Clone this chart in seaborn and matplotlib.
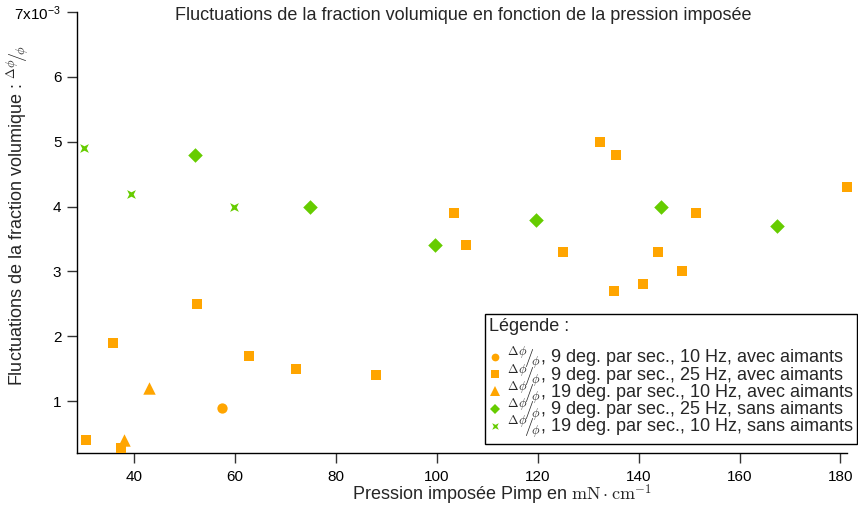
import numpy as np
import pandas as pd
import matplotlib
matplotlib.use("Agg")
import matplotlib.pyplot as plt
from matplotlib.path import Path
from matplotlib.lines import Line2D
import seaborn as sns

# ---------------- data (values in units of 1e-3) ----------------
s1_x = [57.4]
s1_y = [0.9]

s2_x = [30.4, 37.4, 35.8, 52.5, 62.8, 72.1, 87.9, 103.4, 105.7, 125.1,
        132.3, 135.6, 135.2, 140.9, 143.9, 148.6, 151.3, 181.3]
s2_y = [0.4, 0.28, 1.9, 2.5, 1.7, 1.5, 1.4, 3.9, 3.4, 3.3,
        5.0, 4.8, 2.7, 2.8, 3.3, 3.0, 3.9, 4.3]

s3_x = [38.0, 43.0]
s3_y = [0.4, 1.2]

s4_x = [52.1, 74.9, 99.6, 119.6, 144.5, 167.5]
s4_y = [4.8, 4.0, 3.4, 3.8, 4.0, 3.7]

s5_x = [30.0, 39.4, 59.8]
s5_y = [4.9, 4.2, 4.0]

frac = r"$^{\Delta\phi}\!/_{\!\phi}$"
series_labels = [
    frac + ", 9 deg. par sec., 10 Hz, avec aimants",
    frac + ", 9 deg. par sec., 25 Hz, avec aimants",
    frac + ", 19 deg. par sec., 10 Hz, avec aimants",
    frac + ", 9 deg. par sec., 25 Hz, sans aimants",
    frac + ", 19 deg. par sec., 10 Hz, sans aimants",
]
xs = [s1_x, s2_x, s3_x, s4_x, s5_x]
ys = [s1_y, s2_y, s3_y, s4_y, s5_y]

x_ticks = [40, 60, 80, 100, 120, 140, 160, 180]
y_ticks = [1, 2, 3, 4, 5, 6, 7]
y_tick_labels = ["1", "2", "3", "4", "5", "6", r"7x10$^{\mathregular{-3}}$"]

title = "Fluctuations de la fraction volumique en fonction de la pression imposée"
xlabel = r"Pression imposée Pimp en $\mathrm{mN}\cdot\mathrm{cm}^{-1}$"
ylabel = r"Fluctuations de la fraction volumique : $^{\Delta\phi}\!/_{\!\phi}$"

rows = []
for lab, xx, yy in zip(series_labels, xs, ys):
    for a, b in zip(xx, yy):
        rows.append({"x": a, "y": b, "serie": lab})
df = pd.DataFrame(rows)

# ---------------- style ----------------
sns.set_theme(style="ticks")
plt.rcParams["font.family"] = ["Liberation Sans", "DejaVu Sans"]
plt.rcParams["mathtext.fontset"] = "cm"
plt.rcParams["font.size"] = 10.5

orange = "#FFA500"
green = "#66CC00"

bowtie = Path([(-1, -1), (0, -0.5), (1, -1), (0.5, 0), (1, 1), (0, 0.5),
               (-1, 1), (-0.5, 0), (-1, -1)], closed=True)

colors = [orange, orange, orange, green, green]
markers = ["o", "s", "^", "D", bowtie]
sizes = [55, 62, 80, 55, 40]

fig = plt.figure(figsize=(8.58, 5.09), dpi=100)
ax = fig.add_axes([77 / 858, 1 - 453 / 509, (847 - 77) / 858, (453 - 12) / 509])

for lab, c, m, s in zip(series_labels, colors, markers, sizes):
    sub = df[df["serie"] == lab]
    sns.scatterplot(data=sub, x="x", y="y", ax=ax, color=c, marker=m, s=s,
                    linewidth=0, legend=False, clip_on=False, zorder=3)

ax.set_xlim(28.7, 181.3)
ax.set_ylim(0.2, 7.0)
ax.set_xticks(x_ticks)
ax.set_xticklabels([str(t) for t in x_ticks])
ax.set_yticks(y_ticks)
ax.set_yticklabels(y_tick_labels)
ax.tick_params(axis="both", direction="out", length=7.2, width=1, color="#333333",
               labelsize=11, labelcolor="black")
ax.tick_params(axis="x", pad=5)
ax.tick_params(axis="y", pad=4)
ax.spines["top"].set_visible(False)
ax.spines["right"].set_visible(False)
for sp in ["left", "bottom"]:
    ax.spines[sp].set_color("black")
    ax.spines[sp].set_linewidth(1)
ax.set_xlabel("")
ax.set_ylabel("")

fig.text(463 / 858, 1 - 15 / 509, title, ha="center", va="center", fontsize=13)
fig.text(502 / 858, 1 - 495 / 509, xlabel, ha="center", va="center", fontsize=13)
fig.text(18 / 858, 1 - 216 / 509, ylabel, ha="center", va="center",
         rotation=90, fontsize=13)

handles = [Line2D([], [], linestyle="none", marker=m, color=c,
                  markersize=np.sqrt(s) * 0.75, markeredgewidth=0)
           for c, m, s in zip(colors, markers, sizes)]
leg = ax.legend(handles, series_labels, title="Légende :\n", loc="lower right",
                bbox_to_anchor=(857 / 858, 1 - 444 / 509),
                bbox_transform=fig.transFigure, frameon=True, fancybox=False,
                edgecolor="black", framealpha=1, fontsize=13,
                title_fontsize=13, handlelength=0.7, handletextpad=0.3,
                labelspacing=-0.5, borderpad=0.2, borderaxespad=0,
                alignment="left")
leg.get_frame().set_linewidth(1)

fig.savefig("out.png", dpi=100)
